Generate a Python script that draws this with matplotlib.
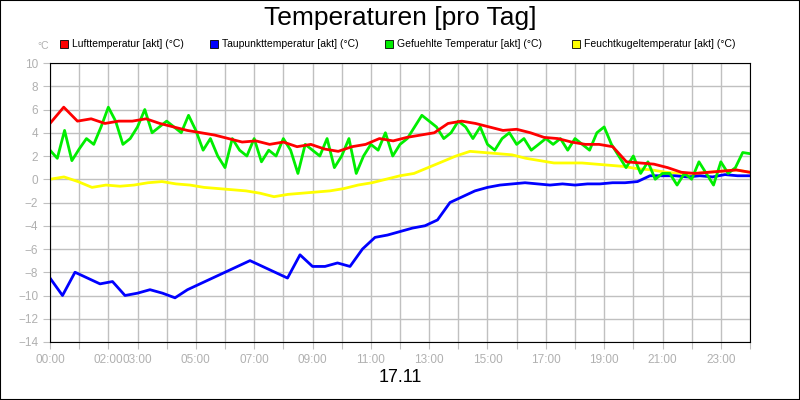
import numpy as np
import matplotlib
matplotlib.use("Agg")
import matplotlib.pyplot as plt
from matplotlib.patches import Rectangle
plt.rcParams["font.family"] = "Liberation Sans"

title = "Temperaturen [pro Tag]"
date_label = "17.11"
series_names = ["Lufttemperatur [akt] (°C)", "Taupunkttemperatur [akt] (°C)",
                "Gefuehlte Temperatur [akt] (°C)", "Feuchtkugeltemperatur [akt] (°C)"]
colors = ["#ff0000", "#0000ff", "#00ee00", "#ffff00"]

luft = [4.8,6.2,5.0,5.2,4.8,5.0,5.0,5.2,4.8,4.5,4.2,4.0,3.8,3.5,3.2,3.3,3.0,3.2,2.8,3.0,
        2.6,2.4,2.8,3.0,3.5,3.3,3.6,3.8,4.0,4.8,5.0,4.8,4.5,4.2,4.3,4.0,3.6,3.5,3.2,3.0,
        3.0,2.8,1.5,1.4,1.3,1.0,0.6,0.5,0.6,0.7,0.8,0.6]
tau = [-8.5,-10.0,-8.0,-8.5,-9.0,-8.8,-10.0,-9.8,-9.5,-9.8,-10.2,-9.5,-9.0,-8.5,-8.0,-7.5,
       -7.0,-7.5,-8.0,-8.5,-6.5,-7.5,-7.5,-7.2,-7.5,-6.0,-5.0,-4.8,-4.5,-4.2,-4.0,-3.5,
       -2.0,-1.5,-1.0,-0.7,-0.5,-0.4,-0.3,-0.4,-0.5,-0.4,-0.5,-0.4,-0.4,-0.3,-0.3,-0.2,
       0.3,0.3,0.3,0.2,0.3,0.2,0.4,0.3,0.3]
feucht = [0.0,0.2,-0.2,-0.7,-0.5,-0.6,-0.5,-0.3,-0.2,-0.4,-0.5,-0.7,-0.8,-0.9,-1.0,-1.2,
          -1.5,-1.3,-1.2,-1.1,-1.0,-0.8,-0.5,-0.3,0.0,0.3,0.5,1.0,1.5,2.0,2.4,2.3,2.2,2.1,
          1.8,1.6,1.4,1.4,1.4,1.3,1.2,1.1,0.9,0.8,0.6,0.5,0.5,0.6,0.7,0.8,0.6]
gefuehlt = [2.5,1.8,4.2,1.6,2.6,3.5,3.0,4.5,6.2,5.0,3.0,3.5,4.5,6.0,4.0,4.5,5.0,4.5,4.0,5.5,
            4.2,2.5,3.5,2.0,1.0,3.5,2.5,2.0,3.5,1.5,2.5,2.0,3.5,2.5,0.5,3.0,2.5,2.0,3.5,1.0,
            2.0,3.5,0.5,2.0,3.0,2.5,4.0,2.0,3.0,3.5,4.5,5.5,5.0,4.5,3.5,4.0,5.0,4.5,3.5,4.5,
            3.0,2.5,3.5,4.0,3.0,3.5,2.5,3.0,3.5,3.0,3.5,2.5,3.5,3.0,2.5,4.0,4.5,3.0,2.0,1.0,
            2.0,0.5,1.5,0.0,0.5,0.5,-0.5,0.5,0.0,1.5,0.5,-0.5,1.5,0.5,1.0,2.3,2.2]
tick_hours = [0,2,3,5,7,9,11,13,15,17,19,21,23]
yticks = list(range(-14, 11, 2))

fig = plt.figure(figsize=(8,4), dpi=100)
fig.patches.append(Rectangle((0,0),1,1,transform=fig.transFigure,fill=False,ec="black",lw=1.5))
ax = fig.add_axes([50/800, 58/400, 700/800, 279/400])
for s, c in zip([feucht, tau, gefuehlt, luft], [colors[3], colors[1], colors[2], colors[0]]):
    x = np.linspace(0, 24, len(s))
    ax.plot(x, s, color=c, lw=2)
ax.set_xlim(0, 24); ax.set_ylim(-14, 10)
ax.set_xticks(range(25))
ax.set_xticklabels([("%02d:00" % h) if h in tick_hours else "" for h in range(25)])
ax.set_yticks(yticks)
ax.grid(True, color="#c0c0c0", lw=1)
ax.set_axisbelow(True)
ax.tick_params(colors="#c0c0c0", labelcolor="#b0b0b0", labelsize=8.5, length=5)
for sp in ax.spines.values():
    sp.set_color("black")
fig.text(0.5, 0.955, title, ha="center", va="center", fontsize=19)
fig.text(0.5, 0.055, date_label, ha="center", va="center", fontsize=13)
fig.text(37/800, 0.885, "°C", ha="left", va="center", fontsize=7.5, color="#b0b0b0")
lx = [60, 210, 385, 572]
for name, c, xp in zip(series_names, colors, lx):
    fig.patches.append(Rectangle((xp/800, 0.881), 8/800, 8/400, transform=fig.transFigure,
                                 fc=c, ec="black", lw=0.6))
    fig.text((xp+12)/800, 0.89, name, ha="left", va="center", fontsize=7.5)
fig.savefig("out.png", dpi=100)
